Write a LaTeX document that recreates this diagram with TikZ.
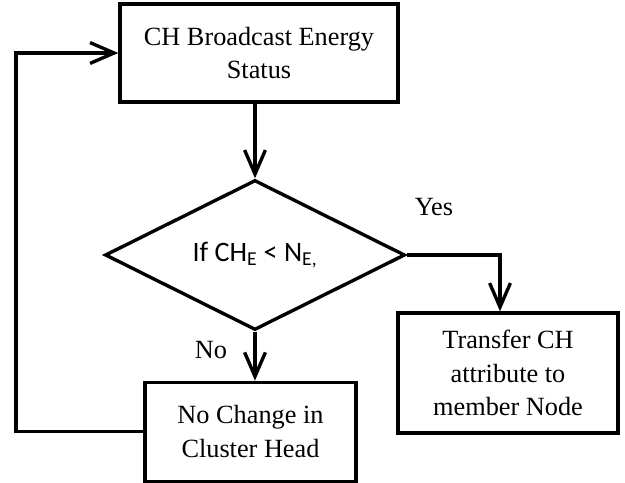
\documentclass[tikz,border=0pt]{standalone}
\usepackage{fontspec}
\setmainfont{Liberation Serif}
\newfontfamily\carlito{Carlito}
\usetikzlibrary{arrows.meta}
\usetikzlibrary{shapes.geometric}

\tikzset{
    procbox/.style={draw, line width=2.4pt, align=center, inner sep=0pt, font=\fontsize{18.7}{24}\selectfont},
    decision/.style={draw, diamond, line width=2.4pt, aspect=2, inner sep=0pt, minimum width=7.5cm, minimum height=3.75cm, font=\carlito\fontsize{20}{24}\selectfont},
    flow/.style={line width=2.4pt, -{Straight Barb[length=0.6cm, width=0.52cm]}},
    branch/.style={font=\fontsize{18.7}{24}\selectfont}
}

\begin{document}
\begin{tikzpicture}
            \useasboundingbox (0, 0) rectangle (15.625, 12.075);

            \node[procbox, minimum width=6.95cm, minimum height=2.45cm] (bcast) at (6.475, 10.75) {CH Broadcast Energy\\Status};
            \node[decision] (cond) at (6.375, 5.7) {If CH\textsubscript{E} < N\textsubscript{E,}};
            \node[procbox, minimum width=5.5cm, minimum height=3.0cm] (transfer) at (12.7, 2.75) {Transfer CH\\attribute to\\member Node};
            \node[procbox, minimum width=5.275cm, minimum height=2.475cm] (nochange) at (6.2625, 1.28) {No Change in\\Cluster Head};

            \draw[flow] (bcast.south -| cond.north) -- (cond.north);

            % yes branch
            \coordinate (yesturn) at (12.5, 5.7);
            \draw[flow] (cond.east) -- (yesturn) -- (yesturn |- transfer.north);
            \node[branch] (yes) at (10.85, 6.9) {Yes};

            % no branch
            \draw[flow] (cond.south) -- (cond.south |- nochange.north);
            \node[branch] (no) at (5.275, 3.325) {No};

            % back to the top
            \coordinate (backturn) at (0.4, 1.2);
            \draw[flow] (nochange.west) -- (nochange.west -| backturn) -- (backturn |- bcast.west) -- (bcast.west);

        \end{tikzpicture}
\end{document}
